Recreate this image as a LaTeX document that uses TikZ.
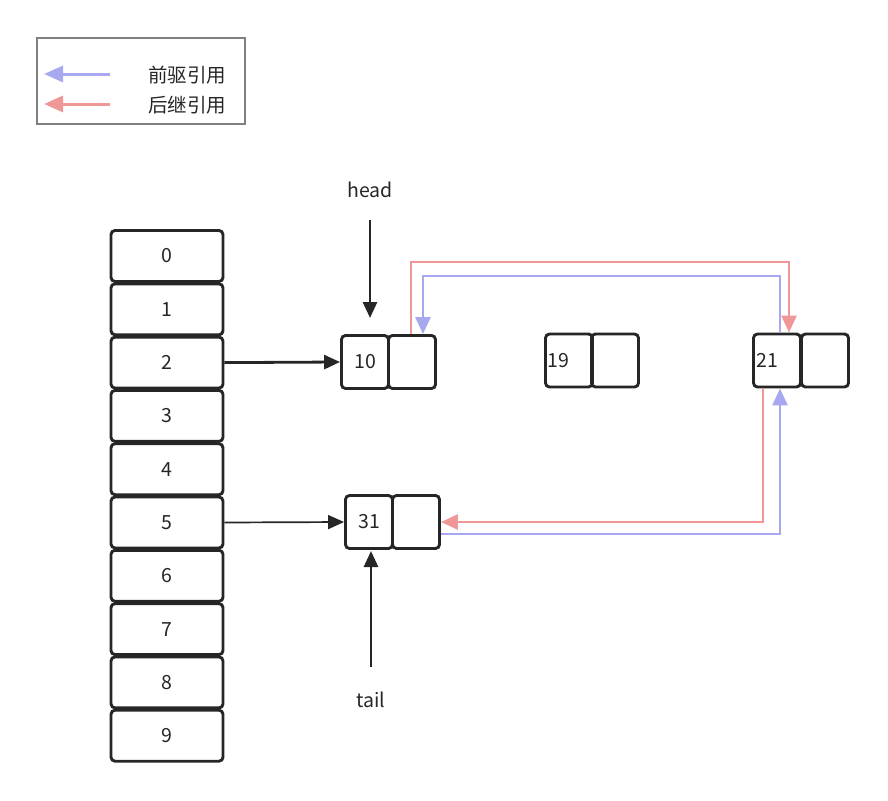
\documentclass[tikz,border=0pt]{standalone}
\usepackage{fontspec}
\setmainfont{Noto Sans CJK SC}
\usetikzlibrary{arrows.meta,calc}
\definecolor{predc}{RGB}{168,168,240}
\definecolor{succc}{RGB}{240,152,152}
\definecolor{ink}{RGB}{38,38,38}
\begin{document}
\begin{tikzpicture}[x=1pt,y=-1pt,
  every node/.style={font=\fontsize{19.5}{22}\selectfont, text=ink},
  cell/.style={draw=ink, line width=2.9pt, rounded corners=4pt, minimum width=112pt, minimum height=51pt, inner sep=0pt},
  half/.style={draw=ink, line width=2.9pt, rounded corners=4pt, minimum width=47pt, minimum height=53pt, inner sep=0pt},
  ptr/.style={draw=ink, line width=2.8pt, -{Triangle[length=16pt,width=14pt]}},
  pred/.style={draw=predc, line width=2.8pt, -{Triangle[length=17pt,width=15pt]}},
  succ/.style={draw=succc, line width=2.8pt, -{Triangle[length=17pt,width=15pt]}},
  lgpred/.style={draw=predc, line width=3pt, -{Triangle[length=19pt,width=16pt]}},
  lgsucc/.style={draw=succc, line width=3pt, -{Triangle[length=19pt,width=16pt]}}]
\useasboundingbox (0,0) rectangle (888,800);
% legend
\node[draw={rgb,255:red,128;green,128;blue,128}, line width=2.5pt, minimum width=208pt, minimum height=86pt, inner sep=0pt] (legend) at (141,81) {};
\coordinate (lp1) at (110,74); \coordinate (lp2) at (44,74);
\coordinate (ls1) at (110,104); \coordinate (ls2) at (44,104);
\draw[lgpred] (lp1) -- (lp2);
\draw[lgsucc] (ls1) -- (ls2);
\node (tpred) at (187,75) {前驱引用};
\node (tsucc) at (187,105) {后继引用};
% array
\foreach \i in {0,...,9} {
  \node[cell] (c\i) at (167,{256+53.3*\i}) {\i};
}
% list nodes
\node[half] (n10l) at (365,362) {10};
\node[half] (n10r) at (412,362) {};
\node[half, label={[anchor=west,inner sep=0pt,xshift=3pt]west:19}] (n19l) at (569,360.5) {};
\node[half] (n19r) at (615,360.5) {};
\node[half, label={[anchor=west,inner sep=0pt,xshift=4pt]west:21}] (n21l) at (777,360.5) {};
\node[half] (n21r) at (825,360.5) {};
\node[half] (n31l) at (369,522) {31};
\node[half] (n31r) at (416,522) {};
% head / tail
\node (head) at (370,190) {head};
\node (tail) at (371,700) {tail};
\coordinate (hs) at (370,220); \coordinate (he) at (370,318);
\coordinate (ts) at (371,667); \coordinate (te) at (371,551);
\draw[ptr] (hs) -- (he);
\draw[ptr] (ts) -- (te);
% array pointers
\draw[ptr] (c2.east) -- (n10l.west);
\draw[draw=ink, line width=1.7pt, -{Triangle[length=16pt,width=14pt]}] (c5.east) -- (n31l.west);
% links
\coordinate (r1) at (411,262); \coordinate (r2) at (789,262);
\coordinate (b1) at (780,276); \coordinate (b2) at (423,276);
\coordinate (r3) at (763,522); \coordinate (b3) at (780,534);
\draw[succ] (r1 |- n10r.north) -- (r1) -- (r2) -- (r2 |- n21l.north);
\draw[pred] (b1 |- n21l.north) -- (b1) -- (b2) -- (b2 |- n10r.north);
\draw[succ] (r3 |- n21l.south) -- (r3) -- (n31r.east);
\draw[pred] (b3 -| n31r.east) -- (b3) -- (b3 |- n21l.south);
\end{tikzpicture}
\end{document}
